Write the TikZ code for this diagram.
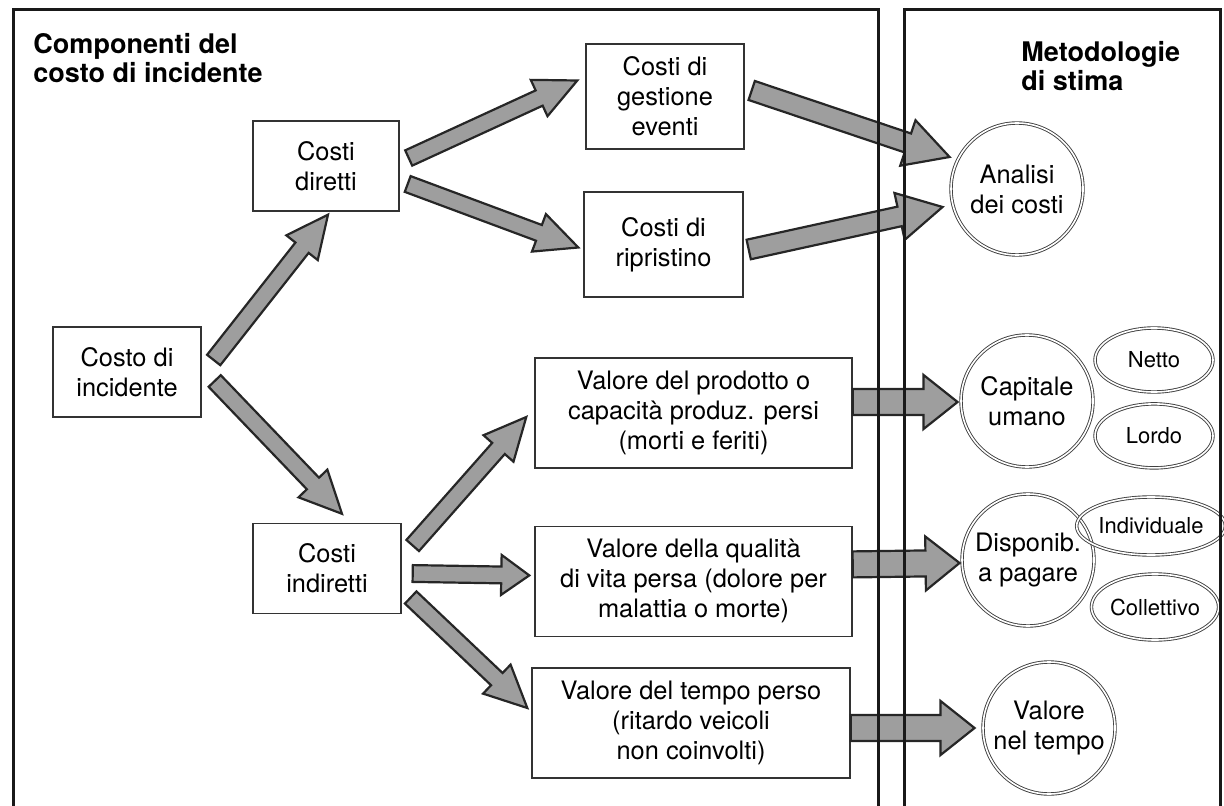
\documentclass[tikz,border=0pt]{standalone}
\usepackage{fontspec}
\setmainfont{TeX Gyre Heros}
\usetikzlibrary{calc, positioning, shapes.geometric}

\tikzset{
  fat shaft/.store in=\fatshaft, fat head/.store in=\fathead, fat tip/.store in=\fattip,
  fat shaft=4.2pt, fat head=10pt, fat tip=21pt,
  fatarr/.style={draw=black!85, line width=1.1pt, fill=black!38, line join=miter}
}

% thick grey block arrow from #2 to #3
\newcommand{\fatarrow}[3][]{%
  \begin{scope}[#1]
    \coordinate (fa-s) at (#2);
    \coordinate (fa-e) at (#3);
    \coordinate (fa-h) at ($(fa-e)!\fattip!(fa-s)$);
    \draw[fatarr] ($(fa-s)!\fatshaft!90:(fa-e)$)
      -- ($(fa-h)!\fatshaft!-90:(fa-s)$) -- ($(fa-h)!\fathead!-90:(fa-s)$)
      -- (fa-e)
      -- ($(fa-h)!\fathead!90:(fa-s)$) -- ($(fa-h)!\fatshaft!90:(fa-s)$)
      -- ($(fa-s)!\fatshaft!-90:(fa-e)$) -- cycle;
  \end{scope}}

\begin{document}
\begin{tikzpicture}[
    x=0.5pt, y=-0.5pt,
    box/.style={rectangle, draw=black!80, line width=0.7pt, fill=white,
                align=center, inner sep=2pt,
                font=\fontsize{12.7}{15}\selectfont},
    circ/.style={circle, draw=black!75, double, double distance=0.8pt,
                 line width=0.45pt, align=center, minimum size=66pt,
                 inner sep=0pt, font=\fontsize{12.7}{15}\selectfont},
    oval/.style={ellipse, draw=black!75, double, double distance=0.8pt,
                 line width=0.45pt, minimum width=59pt, minimum height=32pt,
                 inner sep=0pt, font=\fontsize{11}{12}\selectfont},
    title/.style={anchor=north west, align=left, inner sep=0pt,
                  font=\fontsize{13.5}{14.5}\selectfont\bfseries},
    frame/.style={draw=black!90, line width=1.5pt}
  ]
  \useasboundingbox (0,0) rectangle (1224,806);

  % headings
  \node[title] (tleft)  at (33,33)   {Componenti del\\costo di incidente};
  \node[title] (tright) at (1021,41) {Metodologie\\di stima};

  % cost components
  \node[box, minimum width=74pt, minimum height=45pt] (inc) at (127,372) {Costo di\\incidente};
  \node[box, minimum width=73pt, minimum height=45pt] (dir) at (326,166) {Costi\\diretti};
  \node[box, minimum width=74pt, minimum height=45pt] (ind) at (327,568.5) {Costi\\indiretti};
  \node[box, minimum width=79pt, minimum height=52.5pt] (ges) at (665,96.5) {Costi di\\gestione\\eventi};
  \node[box, minimum width=79.5pt, minimum height=52.5pt] (rip) at (663.5,244.5) {Costi di\\ripristino};
  \node[box, minimum width=158.5pt, minimum height=55pt] (prod) at (693.5,413)
    {Valore del prodotto o\\capacità produz. persi\\(morti e feriti)};
  \node[box, minimum width=158.5pt, minimum height=55pt, below=28.5pt of prod] (qual)
    {Valore della qualità\\di vita persa (dolore per\\malattia o morte)};
  \node[box, minimum width=159pt, minimum height=55pt] (tempo) at (691,723)
    {Valore del tempo perso\\(ritardo veicoli\\non coinvolti)};

  % estimation methods
  \node[circ] (ana)  at (1017,189) {Analisi\\dei costi};
  \node[circ] (cap)  at (1027,401) {Capitale\\umano};
  \node[circ] (disp) at (1028,560) {Disponib.\\a pagare};
  \node[circ] (nel)  at (1049,728) {Valore\\nel tempo};
  \node[oval] (netto) at (1154,360) {Netto};
  \node[oval, below=5.5pt of netto] (lordo) {Lordo};
  \node[oval, minimum height=29pt] (indiv) at (1151,526) {Individuale};
  \node[oval, minimum height=33pt] (coll)  at (1155,607) {Collettivo};

  % block arrows
  \fatarrow{$(inc.east)+(12,-12)$}{$(dir.south)+(2,3)$}
  \fatarrow{$(inc.east)+(13,9)$}{$(ind.north)+(15,-9)$}
  \fatarrow{$(dir.east)+(9,-8)$}{$(ges.west)+(-8,-16)$}
  \fatarrow{$(dir.east)+(8,18)$}{$(rip.west)+(-5,3)$}
  \fatarrow{$(ind.east)+(11,-23)$}{$(prod.west)+(-8,4)$}
  \fatarrow[fat tip=14pt]{$(ind.east)+(11,5)$}{$(qual.west)+(-5,-6)$}
  \fatarrow{$(ind.east)+(9,29)$}{$(tempo.west)+(-4,-15)$}
  \fatarrow[fat shaft=5pt, fat head=12pt, fat tip=22pt]{$(ges.east)+(7,-6)$}{$(ana.west)+(-1,-32)$}
  \fatarrow[fat shaft=5pt, fat head=12pt, fat tip=22pt]{$(rip.east)+(5,5)$}{$(ana.west)+(-8,18)$}
  \fatarrow[fat shaft=6.5pt, fat head=13.5pt, fat tip=17pt]{$(prod.east)+(0,-11)$}{$(cap.west)+(-3,1)$}
  \fatarrow[fat shaft=6.5pt, fat head=13.5pt, fat tip=17pt]{$(qual.east)+(0,-17)$}{$(disp.west)+(-2,3)$}
  \fatarrow[fat shaft=6.5pt, fat head=13.5pt, fat tip=17pt]{$(tempo.east)+(0,5)$}{$(nel.west)+(-8,0)$}

  % the two panels, open at the bottom
  \draw[frame] (13,806) |- (878,10) -- (878,806);
  \draw[frame] (904,806) |- (1220,10) -- (1220,806);
\end{tikzpicture}
\end{document}
